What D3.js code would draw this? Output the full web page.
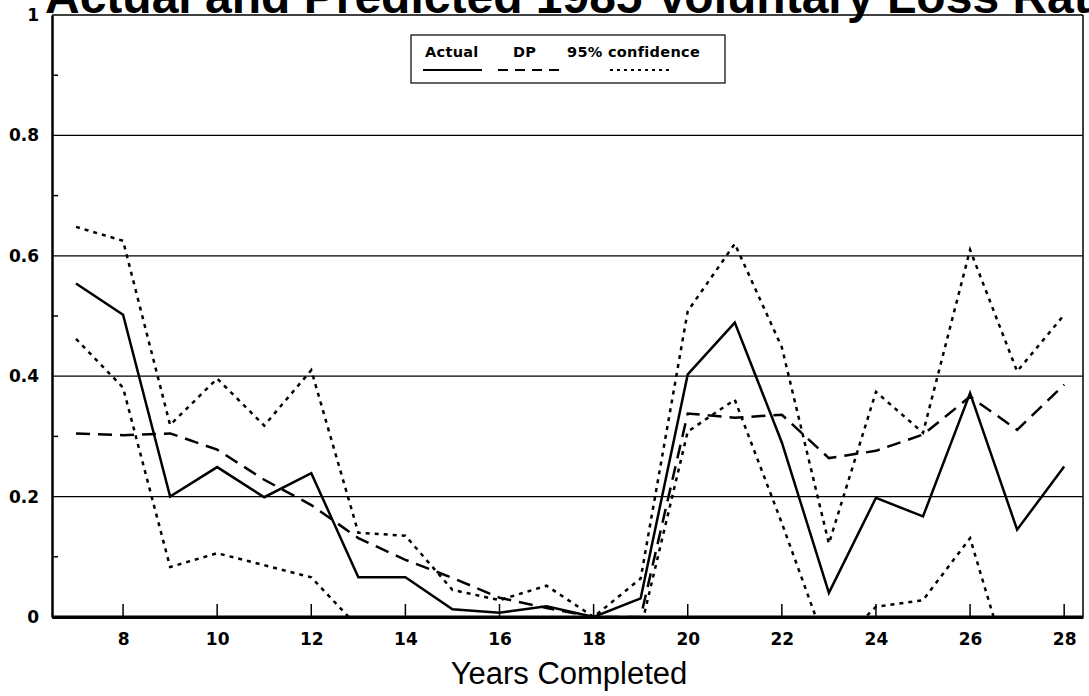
<!DOCTYPE html>
<html>
<head>
	<meta charset="utf-8">
	<script src="https://cdn.jsdelivr.net/npm/d3@7"></script>
	<style type="text/css">
		body { margin: 0; padding: 0; background: white; }
		svg { display: block; font-family: "Liberation Sans", Arial, sans-serif; }
	</style>
</head>
<body>
	<script type="text/javascript">

		// data
		var years = [7,8,9,10,11,12,13,14,15,16,17,18,19,20,21,22,23,24,25,26,27,28];
		var actual = [0.554,0.502,0.200,0.249,0.199,0.239,0.066,0.066,0.013,0.007,0.018,0.0,0.031,0.403,0.489,0.290,0.040,0.198,0.167,0.372,0.145,0.250];
		var dp = [0.305,0.302,0.305,0.278,0.228,0.186,0.131,0.095,0.065,0.032,0.015,0.0,0.0,0.338,0.331,0.336,0.264,0.276,0.303,0.366,0.311,0.386];
		var upper = [0.648,0.625,0.319,0.396,0.318,0.410,0.140,0.135,0.045,0.028,0.052,0.0,0.064,0.508,0.620,0.448,0.122,0.374,0.306,0.610,0.408,0.502];
		var lower = [0.462,0.381,0.083,0.106,0.086,0.066,-0.017,-0.05,-0.06,-0.06,-0.05,-0.03,-0.02,0.308,0.361,0.156,-0.06,0.017,0.028,0.131,-0.131,-0.10];
		var xTicks = [8,10,12,14,16,18,20,22,24,26,28];
		var yLabels = [0,0.2,0.4,0.6,0.8,1];
		var yGrid = [0.2,0.4,0.6,0.8];
		var yMinor = [0.1,0.3,0.5,0.7,0.9];
		var legendNames = ["Actual","DP","95% confidence"];

		var W = 1089, H = 696;
		// plot box (note: "top" is taken by window.top, so use other names)
		var pL = 52, pR = 1083, pT = 15, pB = 617;
		var tickFont = "DejaVu Sans, sans-serif";

		var svg = d3.select("body").append("svg")
			.attr("width", W).attr("height", H);

		var x = d3.scaleLinear().domain([6.49, 28.4]).range([pL, pR]);
		var y = d3.scaleLinear().domain([0, 1]).range([pB, pT]);

		// title, mostly cut off at the top edge
		svg.append("text")
			.attr("x", 45).attr("y", 13)
			.style("font-size", "48px").style("font-weight", "bold")
			.text("Actual and Predicted 1985 Voluntary Loss Rates");

		// grid lines
		svg.append("g").selectAll("line").data(yGrid).enter().append("line")
			.attr("x1", pL).attr("x2", pR)
			.attr("y1", function(d){ return y(d); }).attr("y2", function(d){ return y(d); })
			.attr("stroke", "black").attr("stroke-width", 1.2);

		// frame
		svg.append("line").attr("x1", pL).attr("x2", pR).attr("y1", pT).attr("y2", pT)
			.attr("stroke", "black").attr("stroke-width", 1.5);
		svg.append("line").attr("x1", pR).attr("x2", pR).attr("y1", pT).attr("y2", pB)
			.attr("stroke", "black").attr("stroke-width", 1.5);

		// y axis
		var yAxis = d3.axisLeft(y).tickValues(yLabels).tickSize(0).tickPadding(13)
			.tickFormat(function(d){ return d === 0 || d === 1 ? d3.format("d")(d) : d3.format(".1f")(d); });
		var gy = svg.append("g").attr("transform", "translate(" + pL + ",0)").call(yAxis);
		gy.select(".domain").attr("stroke-width", 2.5);
		gy.selectAll("text").style("font-size", "17px").style("font-weight", "bold").style("font-family", tickFont);

		svg.append("g").selectAll("line").data(yMinor).enter().append("line")
			.attr("x1", pL).attr("x2", pL + 6)
			.attr("y1", function(d){ return y(d); }).attr("y2", function(d){ return y(d); })
			.attr("stroke", "black").attr("stroke-width", 1.5);

		// x axis
		var xAxis = d3.axisBottom(x).tickValues(xTicks).tickSize(0).tickPadding(16);
		var gx = svg.append("g").attr("transform", "translate(0," + pB + ")").call(xAxis);
		gx.select(".domain").attr("stroke-width", 3);
		gx.selectAll("text").style("font-size", "17px").style("font-weight", "bold").style("font-family", tickFont);
		svg.append("g").selectAll("line").data(xTicks).enter().append("line")
			.attr("x1", function(d){ return x(d); }).attr("x2", function(d){ return x(d); })
			.attr("y1", pB).attr("y2", pB - 13)
			.attr("stroke", "black").attr("stroke-width", 1.5);

		svg.append("text")
			.attr("x", 569).attr("y", 684)
			.attr("text-anchor", "middle")
			.style("font-size", "31px")
			.text("Years Completed");

		// series, clipped to the plot box
		svg.append("clipPath").attr("id", "plotclip").append("rect")
			.attr("x", pL).attr("y", pT).attr("width", pR - pL).attr("height", pB - pT);

		var plot = svg.append("g").attr("clip-path", "url(#plotclip)");
		function series(vals, dash){
			var line = d3.line()
				.x(function(d, i){ return x(years[i]); })
				.y(function(d){ return y(d); });
			plot.append("path").datum(vals)
				.attr("d", line)
				.attr("fill", "none")
				.attr("stroke", "black")
				.attr("stroke-width", 2.5)
				.attr("stroke-dasharray", dash);
		}
		series(upper, "4,5");
		series(lower, "4,5");
		series(dp, "14,8");
		series(actual, null);

		// bottom axis again over the clipped lines
		svg.append("line").attr("x1", pL).attr("x2", pR).attr("y1", pB).attr("y2", pB)
			.attr("stroke", "black").attr("stroke-width", 3);

		// legend
		var lg = svg.append("g");
		lg.append("rect").attr("x", 411).attr("y", 35).attr("width", 314).attr("height", 48)
			.attr("fill", "white").attr("stroke", "black").attr("stroke-width", 1.2);
		var legX = [425, 513, 567];
		var legLine = [[423,482,null],[498,562,"10,7"],[610,673,"3,4"]];
		lg.selectAll("text").data(legendNames).enter().append("text")
			.attr("x", function(d, i){ return legX[i]; }).attr("y", 57)
			.style("font-size", "14.5px").style("font-weight", "bold")
			.style("font-family", tickFont).style("letter-spacing", "0.3px")
			.text(function(d){ return d; });
		lg.selectAll("line").data(legLine).enter().append("line")
			.attr("x1", function(d){ return d[0]; }).attr("x2", function(d){ return d[1]; })
			.attr("y1", 70).attr("y2", 70)
			.attr("stroke", "black").attr("stroke-width", 2.2)
			.attr("stroke-dasharray", function(d){ return d[2]; });

	</script>
</body>
</html>
